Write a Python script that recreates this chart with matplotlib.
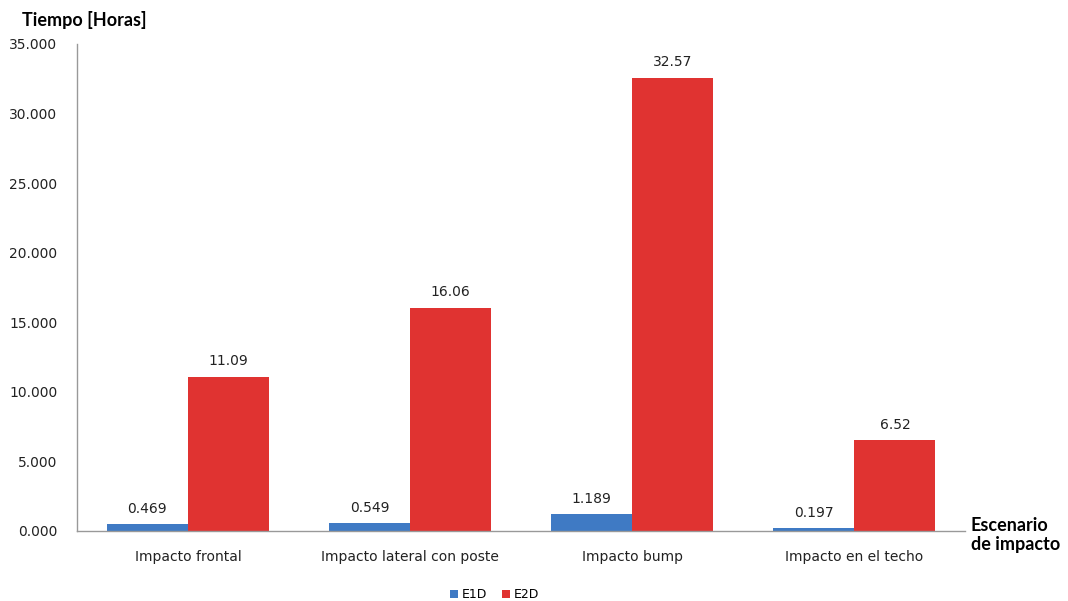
import numpy as np
import matplotlib.pyplot as plt
from matplotlib.ticker import FuncFormatter

categories = ["Impacto frontal", "Impacto lateral con poste", "Impacto bump", "Impacto en el techo"]
e1d = [0.469, 0.549, 1.189, 0.197]
e2d = [11.09, 16.06, 32.57, 6.52]
e1d_labels = ["0.469", "0.549", "1.189", "0.197"]
e2d_labels = ["11.09", "16.06", "32.57", "6.52"]

blue = '#3f7ac4'
red = '#e03331'

fig = plt.figure(figsize=(10.68, 6.01), dpi=100)
ax = fig.add_axes([0.072, 0.1165, 0.832, 0.8103])

x = np.arange(len(categories))
w = 0.365
b1 = ax.bar(x - w/2, e1d, w, color=blue, label='E1D')
b2 = ax.bar(x + w/2, e2d, w, color=red, label='E2D')

for rect, lab in zip(list(b1) + list(b2), e1d_labels + e2d_labels):
    ax.text(rect.get_x() + rect.get_width()/2, rect.get_height() + 0.6, lab,
            ha='center', va='bottom', fontsize=10, color='#222222')

ax.set_xlim(-0.5, len(categories) - 0.5)
ax.set_ylim(0, 35)
ax.set_yticks(np.arange(0, 35.1, 5))
ax.yaxis.set_major_formatter(FuncFormatter(lambda v, p: "%.3f" % v))
ax.set_xticks(x)
ax.set_xticklabels(categories)
ax.tick_params(axis='both', length=0, labelsize=10, colors='#222222', pad=14)
ax.tick_params(axis='x', pad=14)

for s in ['top', 'right']:
    ax.spines[s].set_visible(False)
for s in ['left', 'bottom']:
    ax.spines[s].set_color('#999999')
    ax.spines[s].set_linewidth(1)

fig.text(0.021, 0.966, "Tiempo [Horas]", fontsize=13, fontweight='bold', family='Lato',
         ha='left', va='center')
fig.text(0.909, 0.14, "Escenario\nde impacto", fontsize=13, fontweight='bold', family='Lato',
         ha='left', va='top', linespacing=1.15)

ax.legend(loc='upper center', bbox_to_anchor=(0.47, -0.095), ncol=2, frameon=False,
          fontsize=9, handlelength=0.6, handleheight=0.6, handletextpad=0.3, columnspacing=1.2)

plt.savefig('out.png', dpi=100)
